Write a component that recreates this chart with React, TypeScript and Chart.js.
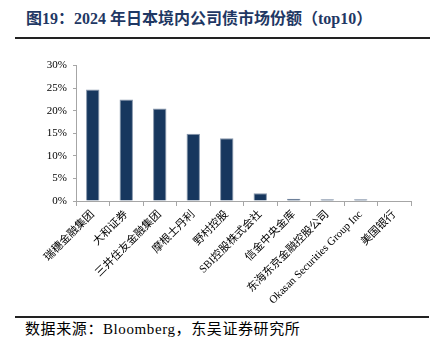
import React, { useEffect, useRef } from "react";
import { Chart, registerables } from "chart.js";

Chart.register(...registerables);

const categories = [
  "瑞穗金融集团",
  "大和证券",
  "三井住友金融集团",
  "摩根士丹利",
  "野村控股",
  "SBI控股株式会社",
  "信金中央金库",
  "东海东京金融控股公司",
  "Okasan Securities Group Inc",
  "美国银行",
];
const shares = [24.7, 22.5, 20.5, 14.9, 13.9, 1.7, 0.5, 0.4, 0.4, 0.1];
const yTicks = [0, 5, 10, 15, 20, 25, 30];

const title = "图19：2024 年日本境内公司债市场份额（top10）";
const source = "数据来源：Bloomberg，东吴证券研究所";

const FONT = "'Liberation Serif', 'Times New Roman', 'Noto Sans CJK SC', serif";

export default function App() {
  const ref = useRef<HTMLCanvasElement | null>(null);
  useEffect(() => {
    document.body.style.margin = "0";
    const ctx = ref.current!;
    const chart = new Chart(ctx, {
      type: "bar",
      data: {
        labels: categories,
        datasets: [
          {
            data: shares,
            backgroundColor: "#17375e",
            borderColor: "#8796ab",
            borderWidth: 1,
            barPercentage: 0.4,
            categoryPercentage: 1,
          },
        ],
      },
      options: {
        animation: false,
        responsive: false,
        maintainAspectRatio: false,
        layout: { padding: { left: 0, right: 26, top: 8, bottom: 0 } },
        plugins: { legend: { display: false }, tooltip: { enabled: false } },
        scales: {
          x: {
            grid: {
              display: true,
              drawOnChartArea: false,
              drawTicks: true,
              tickLength: 5,
              color: "#a6a6a6",
              offset: true,
            },
            border: { display: true, color: "#a6a6a6" },
            ticks: {
              autoSkip: false,
              minRotation: 45,
              maxRotation: 45,
              color: "#000",
              padding: 2,
              font: { family: FONT, size: 11 },
            },
            afterFit: (s: any) => {
              s.height = 110;
            },
          },
          y: {
            min: 0,
            max: 30,
            afterBuildTicks: (s: any) => {
              s.ticks = yTicks.map((v) => ({ value: v }));
            },
            grid: { display: true, drawOnChartArea: false, drawTicks: true, tickLength: 3, color: "#a6a6a6" },
            border: { display: true, color: "#a6a6a6" },
            ticks: {
              color: "#000",
              padding: 6,
              font: { family: FONT, size: 11 },
              callback: (v: any) => v + "%",
            },
            afterFit: (s: any) => {
              s.width = 76;
            },
          },
        },
      },
    });
    return () => chart.destroy();
  }, []);

  return (
    <div style={{ position: "relative", width: 437, height: 350, background: "#fff", overflow: "hidden" }}>
      <div
        style={{
          position: "absolute",
          left: 26,
          top: 9,
          fontFamily: FONT,
          fontWeight: "bold",
          fontSize: 16,
          color: "#1f3864",
          whiteSpace: "nowrap",
          lineHeight: "20px",
        }}
      >
        {title}
      </div>
      <div style={{ position: "absolute", left: 15, top: 37, width: 415, height: 2, background: "#222" }} />
      <canvas ref={ref} width={437} height={258} style={{ position: "absolute", left: 0, top: 53 }} />
      <div style={{ position: "absolute", left: 15, top: 316, width: 414, height: 2, background: "#222" }} />
      <div
        style={{
          position: "absolute",
          left: 25,
          top: 319,
          fontFamily: FONT,
          fontSize: 15,
          letterSpacing: 0.6,
          color: "#000",
          whiteSpace: "nowrap",
          lineHeight: "20px",
        }}
      >
        {source}
      </div>
    </div>
  );
}
